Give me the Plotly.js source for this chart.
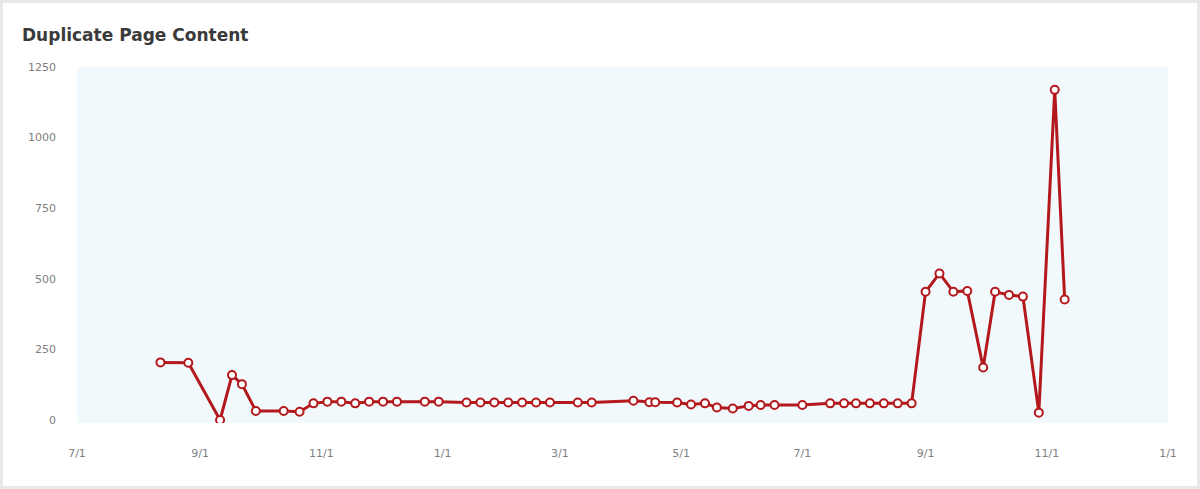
<!DOCTYPE html>
<html>
<head>
<meta charset="utf-8">
<script src="https://cdn.plot.ly/plotly-3.0.1.min.js"></script>
<style>
  body { margin: 0; background: #e9e9e9; }
  #chart { position: absolute; left: 3px; top: 3px; width: 1194px; height: 483px; background: #fff; }
</style>
</head>
<body>
<div id="chart"></div>
<script>
// weekly crawl samples
var dates = [
    '2012-08-12', '2012-08-26', '2012-09-11', '2012-09-17', '2012-09-22', '2012-09-29',
    '2012-10-13', '2012-10-21', '2012-10-28', '2012-11-04', '2012-11-11', '2012-11-18',
    '2012-11-25', '2012-12-02', '2012-12-09', '2012-12-23', '2012-12-30',
    '2013-01-13', '2013-01-20', '2013-01-27', '2013-02-03', '2013-02-10', '2013-02-17',
    '2013-02-24', '2013-03-10', '2013-03-17', '2013-04-07', '2013-04-15', '2013-04-18',
    '2013-04-29', '2013-05-06', '2013-05-13', '2013-05-19', '2013-05-27', '2013-06-04',
    '2013-06-10', '2013-06-17', '2013-07-01', '2013-07-15', '2013-07-22', '2013-07-28',
    '2013-08-04', '2013-08-11', '2013-08-18', '2013-08-25', '2013-09-01', '2013-09-08',
    '2013-09-15', '2013-09-22', '2013-09-30', '2013-10-06', '2013-10-13', '2013-10-20',
    '2013-10-28', '2013-11-05', '2013-11-10'
];
var duplicates = [
    204, 203, 0, 159, 127, 32,
    32, 29, 59, 65, 65, 59,
    65, 65, 65, 65, 65,
    62, 62, 62, 62, 62, 62,
    62, 62, 62, 68, 63, 63,
    62, 55, 59, 44, 41, 50,
    53, 53, 53, 59, 59, 59,
    59, 59, 59, 59, 454, 519,
    454, 457, 186, 454, 443, 437,
    26, 1169, 427
];
var yTicks = [0, 250, 500, 750, 1000, 1250];

var red = '#b3191c';

var trace = {
    x: dates,
    y: duplicates,
    type: 'scatter',
    mode: 'lines+markers',
    line: { color: red, width: 3 },
    marker: {
        size: 8,
        color: '#ffffff',
        line: { color: red, width: 2 }
    },
    hoverinfo: 'x+y'
};

var layout = {
    width: 1194,
    height: 483,
    paper_bgcolor: '#ffffff',
    plot_bgcolor: '#f2f9fc',
    showlegend: false,
    margin: { l: 74, r: 29, t: 64, b: 63 },
    font: { family: 'DejaVu Sans, sans-serif', size: 11, color: '#808080' },
    title: {
        text: '<b>Duplicate Page Content</b>',
        xref: 'container',
        x: 19 / 1194,
        xanchor: 'left',
        yref: 'container',
        y: 1 - 32 / 483,
        yanchor: 'middle',
        font: { family: 'DejaVu Sans, sans-serif', size: 17, color: '#3a3a3a' }
    },
    xaxis: {
        type: 'date',
        range: ['2012-07-01', '2014-01-01'],
        tick0: '2012-07-01',
        dtick: 'M2',
        tickformat: '%-m/%-d',
        showgrid: false,
        zeroline: false,
        showline: false,
        ticks: '',
        ticklabelstandoff: 22,
        tickfont: { size: 11, color: '#808080' }
    },
    yaxis: {
        range: [-10.6, 1250],
        tickvals: yTicks,
        ticktext: yTicks.map(String),
        showgrid: false,
        zeroline: false,
        showline: false,
        ticks: '',
        ticklabelstandoff: 20,
        tickfont: { size: 11, color: '#808080' }
    }
};

Plotly.newPlot('chart', [trace], layout, { displayModeBar: false, staticPlot: true });
</script>
</body>
</html>
